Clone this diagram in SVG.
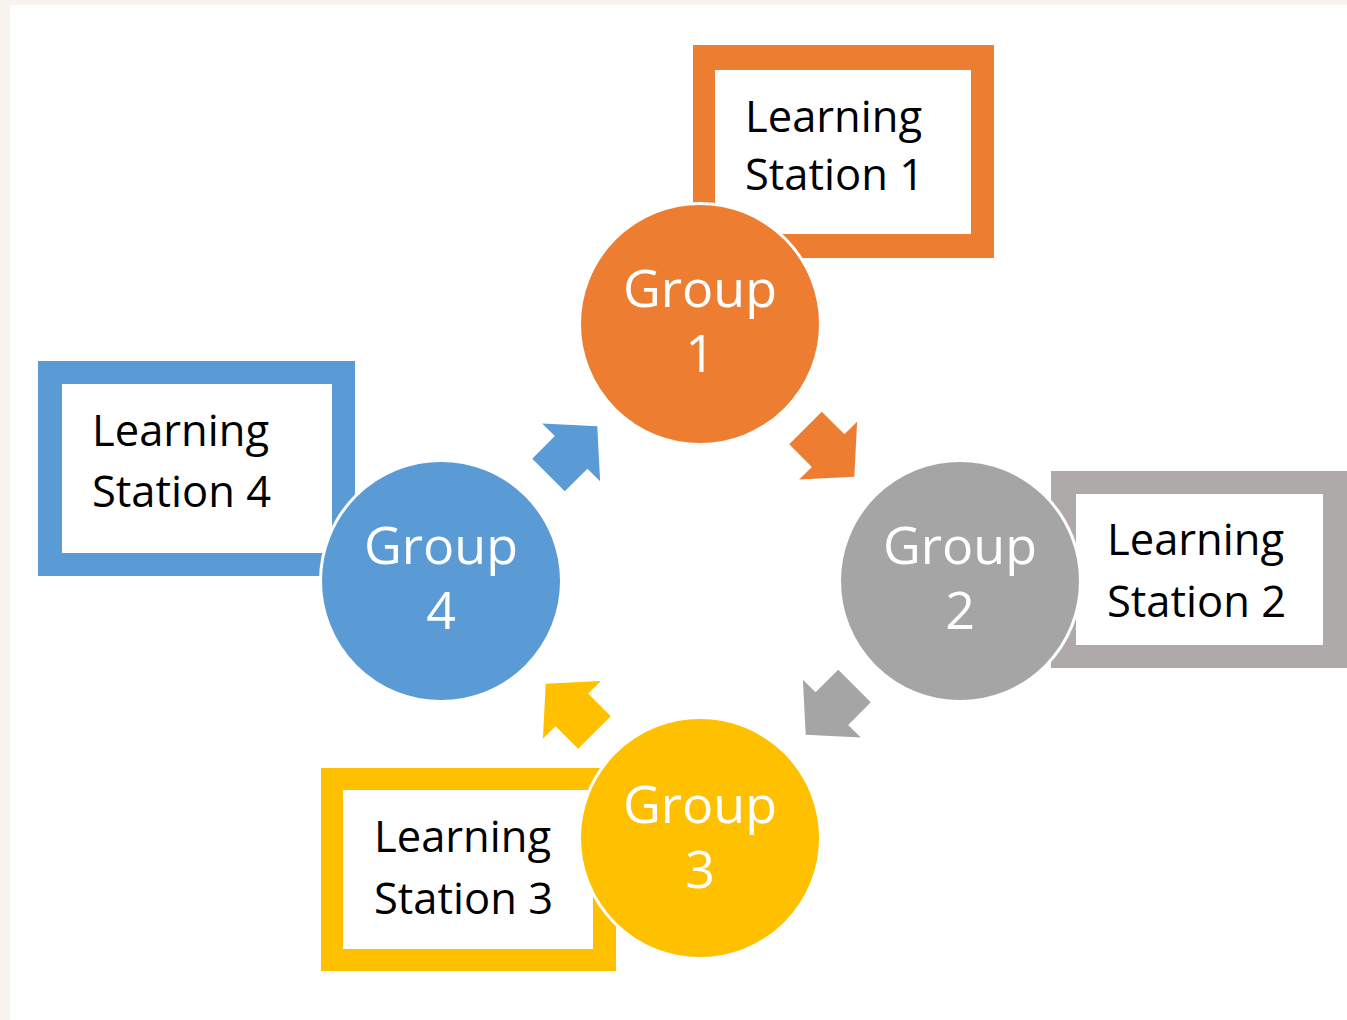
<svg xmlns="http://www.w3.org/2000/svg" width="1347" height="1020" viewBox="0 0 1347 1020">
<style>
.lbl{font-family:"Open Sans","Liberation Sans",sans-serif;font-size:43.5px;fill:#000}
.grp{font-family:"Open Sans","Liberation Sans",sans-serif;font-size:52px;fill:#fff;text-anchor:middle}
.inner{fill:#fff}
.circ{stroke:#fff;stroke-width:3}
</style>
<defs>
<polygon id="arr" points="0,-23 32,-23 32,-41 69,0 32,41 32,23 0,23"/>
</defs>
<rect x="0" y="0" width="1347" height="1020" fill="#f7f3ed"/>
<rect x="10" y="5" width="1337" height="1015" fill="#fff"/>
<g id="connectors">
<use href="#arr" fill="#ED7D31" transform="translate(805.5,428) rotate(45)"/>
<use href="#arr" fill="#A5A5A5" transform="translate(854.5,686) rotate(135)"/>
<use href="#arr" fill="#FFC000" transform="translate(594.5,732.5) rotate(-135)"/>
<use href="#arr" fill="#5B9BD5" transform="translate(548.5,475) rotate(-45)"/>
</g>
<g id="station1">
<rect x="693" y="45" width="301" height="213" fill="#ED7D31"/>
<rect class="inner" x="715" y="70" width="256" height="164"/>
<text class="lbl" x="745" y="132">Learning</text>
<text class="lbl" x="745" y="190">Station 1</text>
</g>
<g id="station2">
<rect x="1051" y="471" width="300" height="197" fill="#AEAAAA"/>
<rect class="inner" x="1076" y="494" width="247" height="151"/>
<text class="lbl" x="1107" y="555">Learning</text>
<text class="lbl" x="1107" y="617">Station 2</text>
</g>
<g id="station3">
<rect x="321" y="768" width="295" height="203" fill="#FFC000"/>
<rect class="inner" x="343" y="790" width="250" height="159"/>
<text class="lbl" x="374" y="852">Learning</text>
<text class="lbl" x="374" y="914">Station 3</text>
</g>
<g id="station4">
<rect x="38" y="361" width="317" height="215" fill="#5B9BD5"/>
<rect class="inner" x="62" y="384" width="270" height="169"/>
<text class="lbl" x="92" y="446">Learning</text>
<text class="lbl" x="92" y="507">Station 4</text>
</g>
<g id="group1">
<circle class="circ" cx="700" cy="324" r="120.5" fill="#ED7D31"/>
<text class="grp" x="700" y="307">Group</text>
<text class="grp" x="700" y="372">1</text>
</g>
<g id="group2">
<circle class="circ" cx="960" cy="581" r="120.5" fill="#A5A5A5"/>
<text class="grp" x="960" y="564">Group</text>
<text class="grp" x="960" y="629">2</text>
</g>
<g id="group3">
<circle class="circ" cx="700" cy="838" r="120.5" fill="#FFC000"/>
<text class="grp" x="700" y="823">Group</text>
<text class="grp" x="700" y="888">3</text>
</g>
<g id="group4">
<circle class="circ" cx="441" cy="581" r="120.5" fill="#5B9BD5"/>
<text class="grp" x="441" y="564">Group</text>
<text class="grp" x="441" y="629">4</text>
</g>
</svg>
